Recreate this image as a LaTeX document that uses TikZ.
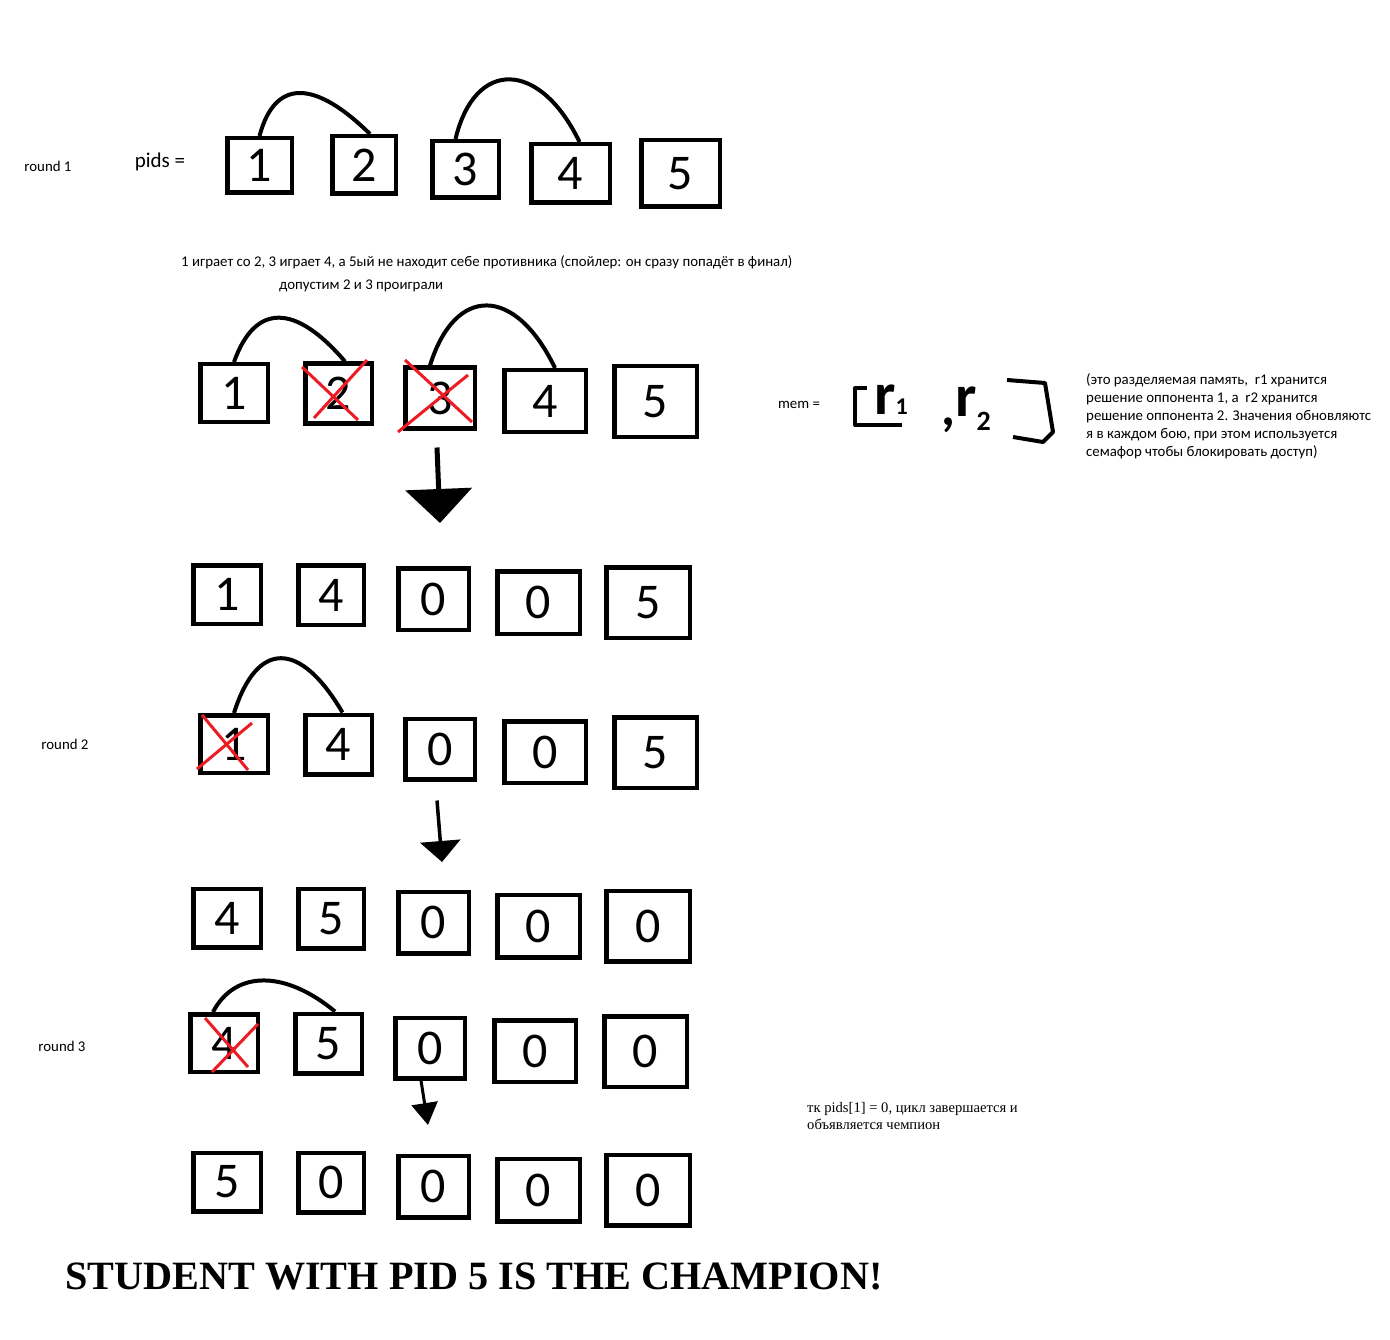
\documentclass[tikz,border=0pt]{standalone}
\usepackage{fontspec}
\setmainfont{Carlito}
\newfontfamily\tnrfont{Liberation Serif}
\usetikzlibrary{calc, arrows.meta}

\definecolor{paintred}{HTML}{ED1C24}
\newcommand{\digit}{\fontsize{50}{50}\selectfont}
\newcommand{\smalltext}{\fontsize{14.85}{18}\selectfont}

\begin{document}
\begin{tikzpicture}[x=1pt,y=-1pt,
  box/.style 2 args={draw, line width=4.5pt, inner sep=0pt, minimum width=#1, minimum height=#2, font=\digit},
  pair/.style={line width=4pt},
  cross/.style={paintred, line width=3pt},
  note/.style={font=\smalltext, inner sep=0pt}]
\useasboundingbox (0,0) rectangle (1390,1340);

% round 1
\node[note] (rd1) at (48,166) {round 1};
\node[font=\fontsize{21}{21}\selectfont] (pids) at (160,162) {pids =};

\node[box={64.5}{54.5}] (p1a) at (259.5,165.5) {1};
\node[box={63.5}{57.5}] (p1b) at (364,165) {2};
\node[box={66.5}{56.5}] (p1c) at (465.5,169.5) {3};
\node[box={78.5}{58.5}] (p1d) at (570.5,173.5) {4};
\node[box={78.5}{66.5}] (p1e) at (680.5,173.5) {5};

\draw[pair] (p1a.north) .. controls (275,78) and (315,80) .. ([xshift=6pt]p1b.north);
\draw[pair] ([xshift=-10pt]p1c.north) .. controls (475,58) and (540,60) .. ([xshift=9pt]p1d.north);

\node[note, anchor=west] (plan) at (181,262) {1 играет со 2, 3 играет 4, а 5ый не находит себе противника (спойлер: он сразу попадёт в финал)};
\node[note, anchor=west] (lost) at (279,286) {допустим 2 и 3 проиграли};

% after the fights
\node[box={67.5}{57.5}] (p2a) at (234,393) {1};
\node[box={66.5}{59.5}] (p2b) at (338.5,393.5) {2};
\node[box={69.5}{60.5}] (p2c) at (440,398) {3};
\node[box={81.5}{61.5}] (p2d) at (545,401) {4};
\node[box={82.5}{70.5}] (p2e) at (655.5,401.5) {5};

\draw[pair] (p2a.north) .. controls (255,303) and (295,303) .. ([xshift=6.5pt]p2b.north);
\draw[pair] ([xshift=-10pt]p2c.north) .. controls (455,285) and (515,285) .. ([xshift=10pt]p2d.north);

\draw[cross] ($(p2b.center)+(-36.5,-26.5)$) -- ($(p2b.center)+(19.5,26.5)$);
\draw[cross] ($(p2b.center)+(28.5,-33.5)$) -- ($(p2b.center)+(-24.5,24.5)$);
\draw[cross] ($(p2c.center)+(-35,-38)$) -- ($(p2c.center)+(32,24)$);
\draw[cross] ($(p2c.center)+(28,-23)$) -- ($(p2c.center)+(-42,34)$);

% shared memory
\node[note] (mem) at (799,405) {mem =};
\draw[pair, line join=round] (867,388) -- (855,388) -- (855,425) -- (902,425);
\draw[pair, line join=round] (1007,380) -- (1045,383) -- (1053,432) -- (1043,442) -- (1013,437);
\node[anchor=base west, inner sep=0pt, font=\bfseries\fontsize{60}{60}\selectfont] (mr1) at (874,414) {r\fontsize{24}{24}\selectfont 1};
\node[anchor=base, inner sep=0pt, font=\bfseries\fontsize{54}{54}\selectfont] (comma) at (948,425) {,};
\node[anchor=base west, inner sep=0pt, font=\bfseries\fontsize{60}{60}\selectfont] (mr2) at (955,416) {r\raisebox{-14pt}{\fontsize{28}{28}\selectfont 2}};

\node[note, anchor=north west, align=left] (memnote) at (1086,373) {(это разделяемая память,\ \ r1 хранится\\
решение оппонента 1, а\ \ r2 хранится\\
решение оппонента 2. Значения обновляютс\\
я в каждом бою, при этом используется\\
семафор чтобы блокировать доступ)};

\node[box={67.5}{58.5}] (p3a) at (227,594.5) {1};
\node[box={65.5}{59.5}] (p3b) at (331,595) {4};
\node[box={70.5}{61.5}] (p3c) at (433.5,599) {0};
\node[box={82.5}{62.5}] (p3d) at (538.5,602.5) {0};
\node[box={83.5}{70.5}] (p3e) at (648,602.5) {5};

\draw[line width=5pt, -{Triangle[width=66pt,length=34pt]}] ($(p2c.south)+(-3,17)$) -- ($(p3c.north)+(6.5,-43)$);

% round 2
\node[note] (rd2) at (65,744) {round 2};

\node[box={67.5}{57.5}] (p4a) at (234,744) {1};
\node[box={66.5}{59.5}] (p4b) at (338.5,744.5) {4};
\node[box={69.5}{60.5}] (p4c) at (440,749) {0};
\node[box={81.5}{61.5}] (p4d) at (545,752) {0};
\node[box={82.5}{70.5}] (p4e) at (655.5,752.5) {5};

\draw[pair] (p4a.north) .. controls (257,640) and (300,640) .. ([xshift=4pt]p4b.north);
\draw[cross] ($(p4a.center)+(-32,-29)$) -- ($(p4a.center)+(14,26)$);
\draw[cross] ($(p4a.center)+(18,-21)$) -- ($(p4a.center)+(-37,25)$);

\node[box={67.5}{58.5}] (p5a) at (227,918) {4};
\node[box={65.5}{59.5}] (p5b) at (331,918.5) {5};
\node[box={70.5}{61.5}] (p5c) at (433.5,922.5) {0};
\node[box={82.5}{62.5}] (p5d) at (538.5,926) {0};
\node[box={83.5}{70.5}] (p5e) at (648,926) {0};

\draw[line width=3.5pt, -{Triangle[width=40pt,length=21pt]}] ($(p4c.south)+(-3,19)$) -- ($(p5c.north)+(8.5,-27.5)$);

% round 3
\node[note] (rd3) at (62,1046) {round 3};

\node[box={67.5}{57.5}] (p6a) at (224,1043) {4};
\node[box={66.5}{59.5}] (p6b) at (328.5,1043.5) {5};
\node[box={69.5}{60.5}] (p6c) at (430,1048) {0};
\node[box={81.5}{61.5}] (p6d) at (535,1051) {0};
\node[box={82.5}{70.5}] (p6e) at (645.5,1051.5) {0};

\draw[pair] ([xshift=-11pt]p6a.north) .. controls (235,970) and (285,970) .. ([xshift=6.5pt]p6b.north);
\draw[cross] ($(p6a.center)+(-19,-25)$) -- ($(p6a.center)+(24,24)$);
\draw[cross] ($(p6a.center)+(34,-19)$) -- ($(p6a.center)+(-12,29)$);

\node[anchor=north west, align=left, inner sep=0pt, font=\tnrfont\fontsize{14.6}{17}\selectfont] (endnote) at (807,1102) {тк pids[1] = 0, цикл завершается и\\
объявляется чемпион};

\node[box={67.5}{58.5}] (p7a) at (227,1182) {5};
\node[box={65.5}{59.5}] (p7b) at (331,1182.5) {0};
\node[box={70.5}{61.5}] (p7c) at (433.5,1186.5) {0};
\node[box={82.5}{62.5}] (p7d) at (538.5,1190) {0};
\node[box={83.5}{70.5}] (p7e) at (648,1190) {0};

\draw[line width=3pt, -{Triangle[width=26pt,length=22pt]}] ($(p6c.south)+(-9,0)$) -- ($(p7c.north)+(-5.5,-28.5)$);

\node[anchor=west, inner sep=0pt, font=\tnrfont\bfseries\fontsize{40.2}{40}\selectfont] (champ) at (65,1276) {STUDENT WITH PID 5 IS THE CHAMPION!};
\end{tikzpicture}
\end{document}
